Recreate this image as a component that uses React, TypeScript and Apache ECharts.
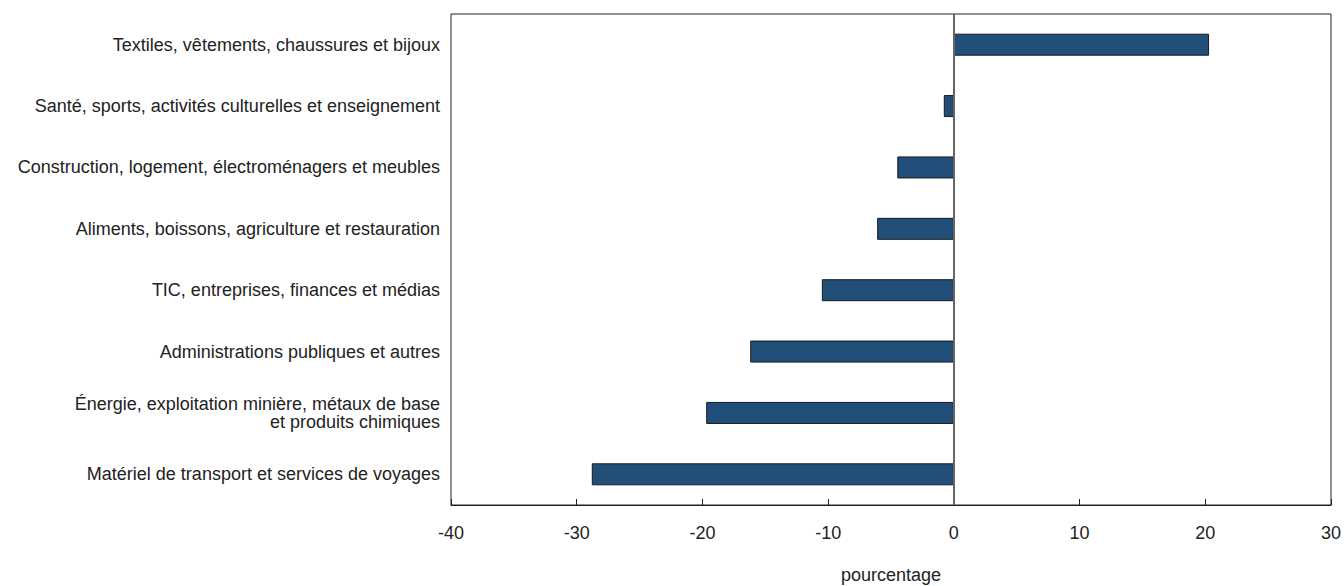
import React, { useEffect, useRef } from "react";
import * as echarts from "echarts";

const categories = [
  "Textiles, vêtements, chaussures et bijoux",
  "Santé, sports, activités culturelles et enseignement",
  "Construction, logement, électroménagers et meubles",
  "Aliments, boissons, agriculture et restauration",
  "TIC, entreprises, finances et médias",
  "Administrations publiques et autres",
  "Énergie, exploitation minière, métaux de base\net produits chimiques",
  "Matériel de transport et services de voyages",
];
const values = [20.3, -0.8, -4.5, -6.1, -10.5, -16.2, -19.7, -28.8];
const xMin = -40;
const xMax = 30;
const xInterval = 10;
const xName = "pourcentage";

const FONT = "'Liberation Sans', Arial, sans-serif";

export default function App() {
  const ref = useRef<HTMLDivElement>(null);
  useEffect(() => {
    if (!ref.current) return;
    const chart = echarts.init(ref.current, undefined, { renderer: "svg" });
    chart.setOption({
      animation: false,
      backgroundColor: "#ffffff",
      grid: {
        left: 451,
        right: 13,
        top: 14,
        bottom: 81,
        show: true,
        borderColor: "#222222",
        borderWidth: 1,
        containLabel: false,
        outerBoundsMode: "none",
      },
      xAxis: {
        type: "value",
        min: xMin,
        max: xMax,
        interval: xInterval,
        name: xName,
        nameLocation: "middle",
        nameGap: 61,
        nameTextStyle: { fontFamily: FONT, fontSize: 18, color: "#222" },
        axisLine: { show: true, lineStyle: { color: "#222", width: 1 } },
        axisTick: { show: true, inside: true, length: 6, lineStyle: { color: "#222" } },
        axisLabel: { fontFamily: FONT, fontSize: 18, color: "#222", margin: 19 },
        splitLine: { show: false },
      },
      yAxis: {
        type: "category",
        data: categories,
        inverse: true,
        axisLine: { show: false },
        axisTick: { show: false },
        axisLabel: {
          fontFamily: FONT,
          fontSize: 18,
          color: "#222",
          margin: 11,
          align: "right",
          lineHeight: 18,
        },
        splitLine: { show: false },
      },
      series: [
        {
          type: "bar",
          data: values,
          barWidth: 22,
          itemStyle: { color: "#224f7a", borderColor: "#1a1a1a", borderWidth: 1 },
          markLine: {
            silent: true,
            symbol: "none",
            label: { show: false },
            lineStyle: { color: "#666", width: 2, type: "solid" },
            data: [{ xAxis: 0 }],
          },
        },
      ],
    });
    return () => chart.dispose();
  }, []);
  return (
    <div
      ref={ref}
      style={{ position: "fixed", left: 0, top: 0, width: 1344, height: 586, background: "#fff" }}
    />
  );
}
